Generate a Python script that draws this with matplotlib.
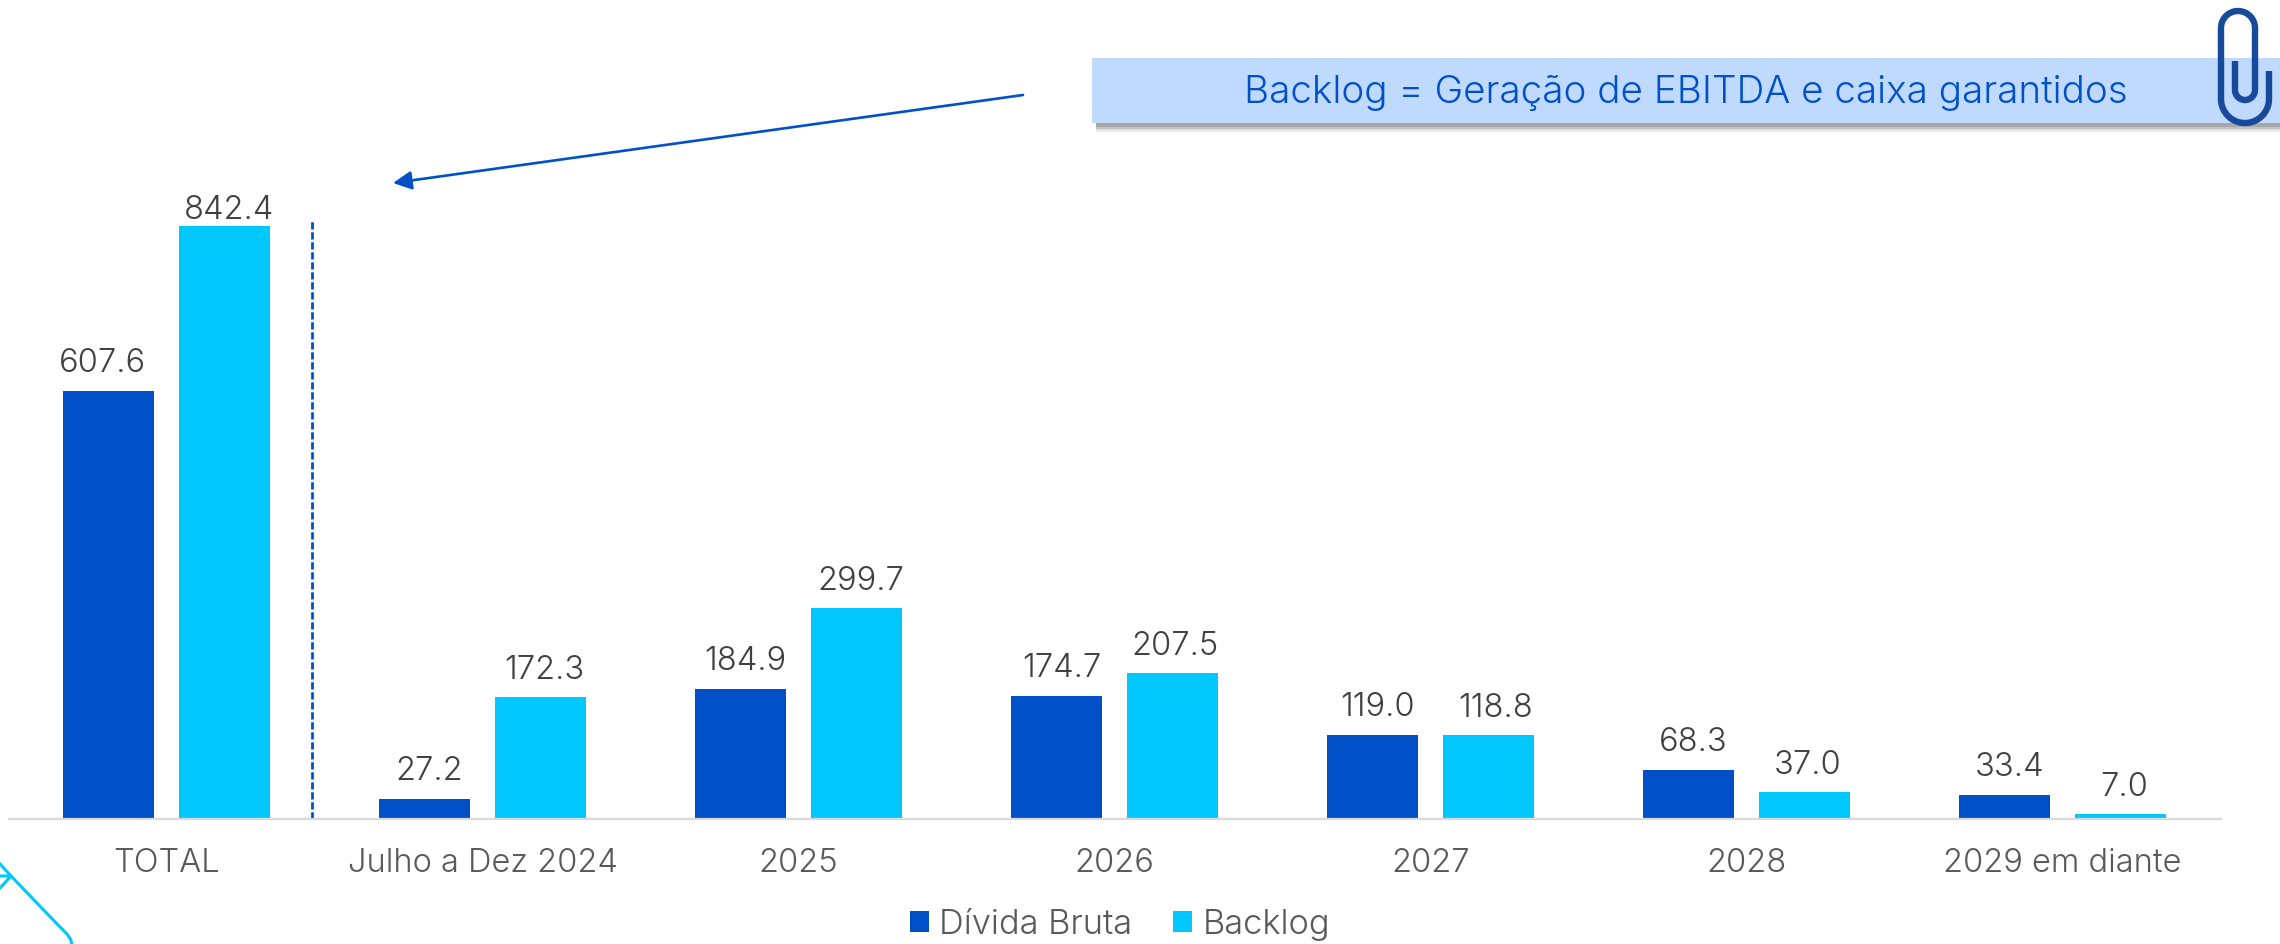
import matplotlib
matplotlib.use("Agg")
import matplotlib.pyplot as plt
import numpy as np
from matplotlib.patches import Rectangle

categories = ["TOTAL", "Julho a Dez 2024", "2025", "2026", "2027", "2028", "2029 em diante"]
divida = [607.6, 27.2, 184.9, 174.7, 119.0, 68.3, 33.4]
backlog = [842.4, 172.3, 299.7, 207.5, 118.8, 37.0, 7.0]

# label nudges in pixels, the source chart had them moved by hand
divida_dx = [-6, 5, 5, 5, 5, 5, 5]
backlog_dx = [4, 4, 4, 2, 7, 3, 4]
backlog_dy = [7, 18, 18, 18, 18, 18, 18]

DARK = "#0051C8"
LIGHT = "#00C8FF"
W, H = 2280, 944

plt.rcParams["font.family"] = ["Inter", "DejaVu Sans"]

fig = plt.figure(figsize=(W / 100, H / 100), dpi=100)

# overlay in pixel coords for the decorations
over = fig.add_axes([0, 0, 1, 1], zorder=0)
over.set_xlim(0, W)
over.set_ylim(H, 0)
over.axis("off")

# chart axes: x spans 8.5-2220.5 px, baseline at 818.5 px, 0.703 px per unit
ax = fig.add_axes([8.5 / W, (H - 818.5) / H, 2212 / W, 618 / H], zorder=1)
ax.patch.set_alpha(0)
x = np.arange(len(categories))
bw = 91 / 316
off = 58 / 316
bars1 = ax.bar(x - off, divida, bw, color=DARK, label="Dívida Bruta")
bars2 = ax.bar(x + off, backlog, bw, color=LIGHT, label="Backlog")
ax.set_xlim(-0.5, 6.5)
ax.set_ylim(0, 618 / 0.703)

for s in ["top", "left", "right"]:
    ax.spines[s].set_visible(False)
ax.spines["bottom"].set_color("#D9D9D9")
ax.spines["bottom"].set_linewidth(1.6)
ax.set_yticks([])
ax.set_xticks(x)
ax.set_xticklabels(categories, fontsize=23.5, color="#595959", fontweight=300)
ax.tick_params(axis="x", length=0, pad=21)

for i, b in enumerate(bars1):
    ax.annotate(f"{divida[i]:.1f}", (b.get_x() + b.get_width() / 2, divida[i]),
                xytext=(divida_dx[i], 19), textcoords="offset pixels", ha="center",
                va="baseline", fontsize=23.5, color="#404040", fontweight=300)
for i, b in enumerate(bars2):
    ax.annotate(f"{backlog[i]:.1f}", (b.get_x() + b.get_width() / 2, backlog[i]),
                xytext=(backlog_dx[i], backlog_dy[i]), textcoords="offset pixels", ha="center",
                va="baseline", fontsize=23.5, color="#404040", fontweight=300)

# divider between TOTAL and the years
ax.axvline(0.459, ymin=0, ymax=597 / 618, color=DARK, lw=2, ls=(0, (2.6, 1)))

ax.legend(loc="center", bbox_to_anchor=(0.5025, -0.172), ncol=2, frameon=False,
          fontsize=24.8, labelcolor="#595959", handlelength=0.54, handleheight=0.54,
          handletextpad=0.3, columnspacing=1.2, borderpad=0)
for t in ax.get_legend().get_texts():
    t.set_fontweight(300)

# banner with soft shadow
for dy, a in [(10, 0.08), (8, 0.16), (6, 0.3), (4, 0.4)]:
    over.add_patch(Rectangle((1096, 58 + dy), 1184, 65, color="#7F7F7F", alpha=a, lw=0))
over.add_patch(Rectangle((1092, 58), 1188, 65, color="#BFD9FF", lw=0))
over.text(1686, 93, "Backlog = Geração de EBITDA e caixa garantidos", ha="center",
          va="center", fontsize=27.8, color=DARK, fontweight=300)

over.annotate("", xy=(393, 183), xytext=(1023, 95),
              arrowprops=dict(arrowstyle="-|>", color=DARK, lw=1.9, mutation_scale=28,
                              shrinkA=0, shrinkB=0))

# paper clip: tail, big bottom arc, top loop, inner u
big = np.linspace(0, np.pi, 40)
top = np.linspace(np.pi, 2 * np.pi, 30)
inner = np.linspace(0, np.pi, 20)
clip_x = np.concatenate([[2269], 2245 + 24 * np.cos(big), 2238 + 17 * np.cos(top),
                         2245 + 10 * np.cos(inner), [2235]])
clip_y = np.concatenate([[71], 99 + 24 * np.sin(big), 28 + 17 * np.sin(top),
                         90 + 10 * np.sin(inner), [61]])
over.plot(clip_x, clip_y, color="#174A9B", lw=4.6, solid_capstyle="butt", zorder=5)

# corner decoration
over.plot([0, 11, 60, 67, 71, 71.5], [864, 876, 927, 934, 940, 944], color=LIGHT, lw=2.2)
over.plot([0, 11, 0], [876, 876, 888], color=LIGHT, lw=2.2)

fig.savefig("out.png", dpi=100)
